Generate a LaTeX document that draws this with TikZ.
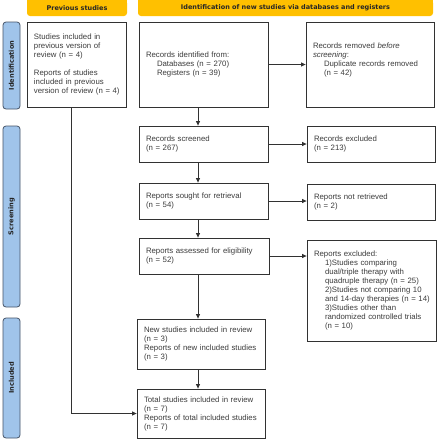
\documentclass[tikz,border=0pt]{standalone}
\usepackage{fontspec}
\setmainfont{Liberation Sans}
\newfontfamily\hdrfont{DejaVu Sans}
\usetikzlibrary{arrows.meta}
\definecolor{hdrcol}{RGB}{255,192,0}
\definecolor{sidecol}{RGB}{160,196,234}
\definecolor{sideline}{RGB}{70,84,104}
\definecolor{linecol}{RGB}{50,50,50}
\definecolor{txtcol}{RGB}{60,60,60}
\newcommand{\myind}{\hspace*{11pt}}
\begin{document}
\begin{tikzpicture}[x=1pt,y=-1pt,
  box/.style={draw=linecol, line width=0.8pt, rectangle, inner xsep=7pt, inner ysep=0pt,
     align=left, text=txtcol, font=\fontsize{7.8}{9}\selectfont},
  hdr/.style={fill=hdrcol, rounded corners=3pt, inner sep=0pt, text=black!85,
     font=\hdrfont\fontsize{6.5}{8}\selectfont\bfseries},
  side/.style={fill=sidecol, draw=sideline, line width=0.8pt, rounded corners=3pt, inner sep=0pt,
     rotate=90, minimum height=17pt, text=black!85, font=\hdrfont\fontsize{6.6}{8}\selectfont\bfseries},
  arr/.style={draw=linecol, line width=0.8pt, -{Triangle[length=4.5pt,width=4pt]}},
  conn/.style={draw=linecol, line width=0.8pt}]
\useasboundingbox (0,0) rectangle (439,440);
\clip (0,0) rectangle (439,440);
\fill[white] (0,0) rectangle (439,440);

% headers
\fill[hdrcol] (27,0) rectangle (127,6);
\node[hdr, minimum width=100pt, minimum height=16pt] (hprev) at (77,8) {Previous studies};
\fill[hdrcol] (138,0) rectangle (433,6);
\node[hdr, minimum width=295pt, minimum height=16pt] (hnew) at (285.5,8) {Identification of new studies via databases and registers};

% side labels
\node[side, minimum width=87pt] (sid) at (11.5,65.5) {Identification};
\node[side, minimum width=181pt] (sscr) at (11.5,216.5) {Screening};
\node[side, minimum width=120pt] (sinc) at (11.5,378) {Included};

% boxes
\node[box, minimum width=99pt, minimum height=85pt, text width=85pt] (prev) at (76.5,64.5)
  {\mbox{Studies included in}\\\mbox{previous version of}\\\mbox{review (n = 4)}\\[9pt]\mbox{Reports of studies}\\\mbox{included in previous}\\\mbox{version of review (n = 4)}};
\node[box, minimum width=129pt, minimum height=85pt, text width=115pt] (ident) at (203.5,64.5)
  {Records identified from:\\\myind Databases (n = 270)\\\myind Registers (n = 39)};
\node[box, minimum width=128pt, minimum height=85pt, text width=114pt] (removed) at (370,64.5)
  {Records removed \emph{before}\\\emph{screening}:\\\myind\mbox{Duplicate records removed}\\\myind (n = 42)\\[2pt]\mbox{}};
\node[box, minimum width=129pt, minimum height=36pt, text width=115pt] (screened) at (203.5,144)
  {Records screened\\(n = 267)};
\node[box, minimum width=128pt, minimum height=36pt, text width=114pt] (excluded) at (371,144)
  {Records excluded\\(n = 213)};
\node[box, minimum width=129pt, minimum height=36pt, text width=115pt] (sought) at (203.5,201)
  {Reports sought for retrieval\\(n = 54)};
\node[box, minimum width=128pt, minimum height=36pt, text width=114pt] (notret) at (371,202)
  {Reports not retrieved\\(n = 2)};
\node[box, minimum width=130pt, minimum height=36pt, text width=116pt] (assessed) at (204,256)
  {\mbox{Reports assessed for eligibility}\\(n = 52)};
\node[box, minimum width=129pt, minimum height=101pt, text width=115pt] (exclrep) at (371.5,290.5)
  {Reports excluded:\\\myind\mbox{1)Studies comparing}\\\myind\mbox{dual/triple therapy with}\\\myind\mbox{quadruple therapy (n = 25)}\\\myind\mbox{2)Studies not comparing 10}\\\myind\mbox{and 14-day therapies (n = 14)}\\\myind\mbox{3)Studies other than}\\\myind\mbox{randomized controlled trials}\\\myind\mbox{(n = 10)}};
\node[box, minimum width=128pt, minimum height=50pt, text width=114pt] (newinc) at (201,344)
  {\mbox{New studies included in review}\\(n = 3)\\\mbox{Reports of new included studies}\\(n = 3)};
\node[box, minimum width=128pt, minimum height=49pt, text width=114pt] (total) at (201,413.5)
  {\mbox{Total studies included in review}\\(n = 7)\\\mbox{Reports of total included studies}\\(n = 7)};

% connectors
\coordinate (ax) at (198,0);
\coordinate (px) at (71,0);
\draw[arr] (ident.east) -- (removed.west);
\draw[arr] (ident.south -| ax) -- (screened.north -| ax);
\draw[arr] (screened.east) -- (excluded.west);
\draw[arr] (screened.south -| ax) -- (sought.north -| ax);
\draw[arr] (sought.east) -- (sought.east -| notret.west);
\draw[arr] (sought.south -| ax) -- (assessed.north -| ax);
\draw[arr] (assessed.east) -- (assessed.east -| exclrep.west);
\draw[arr] (assessed.south -| ax) -- (newinc.north -| ax);
\draw[arr] (newinc.south -| ax) -- (total.north -| ax);
\draw[arr] (prev.south -| px) |- (total.west);
\end{tikzpicture}
\end{document}
